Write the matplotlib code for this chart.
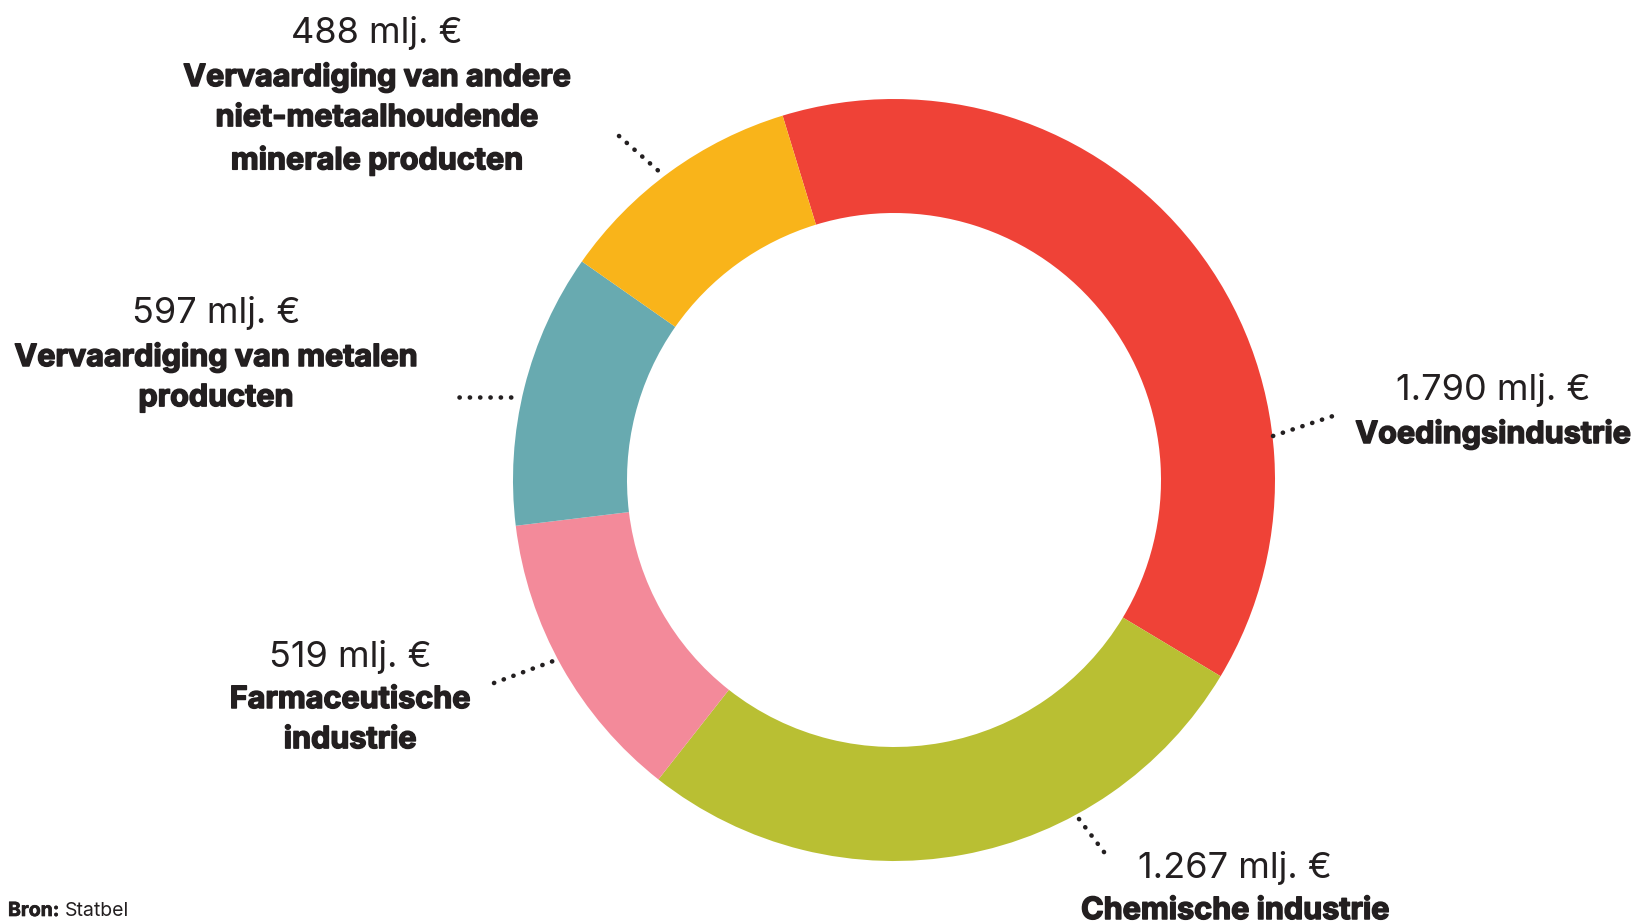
import matplotlib
matplotlib.use("Agg")
import matplotlib.pyplot as plt
import matplotlib.patheffects as pe

# data (clockwise from the top)
sectors = ["Voedingsindustrie", "Chemische industrie", "Farmaceutische\nindustrie",
           "Vervaardiging van metalen\nproducten",
           "Vervaardiging van andere\nniet-metaalhoudende\nminerale producten"]
value_labels = ["1.790 mlj. €", "1.267 mlj. €", "519 mlj. €", "597 mlj. €", "488 mlj. €"]
# arc sizes in degrees as measured on the source picture
arc_degrees = [138.0, 97.2, 44.9, 41.9, 38.0]
colors = ["#EF4237", "#B9BF33", "#F38A9A", "#68AAB0", "#F9B41A"]

txt = "#231F20"
W, H = 1642, 923

fig = plt.figure(figsize=(W / 100, H / 100), dpi=100)
ax = fig.add_axes([0, 0, 1, 1])

cx, cy = 894, H - 480
R = 381
ax.pie(arc_degrees, colors=colors, startangle=107, counterclock=False,
       center=(cx, cy), radius=R, wedgeprops=dict(width=114, linewidth=0))

ax.set_xlim(0, W)
ax.set_ylim(0, H)
ax.set_aspect("equal")
ax.axis("off")

# label anchors in pixel coords (x, y of value text)
label_pos = [(1493, 386), (1235, 864), (350, 653), (216, 309), (377, 29)]
leaders = [((1273, 436), (1333, 416)),
           ((1079, 819), (1107, 856)),
           ((494, 683), (556, 660)),
           ((459, 397), (515, 397)),
           ((619, 136), (662, 174))]

heavy = [pe.withStroke(linewidth=1.1, foreground=txt)]

for name, vlab, (lx, ly), (p0, p1) in zip(sectors, value_labels, label_pos, leaders):
    ax.text(lx, H - ly - 4, vlab, ha="center", va="center", fontsize=26,
            family="Inter", fontweight="normal", color=txt)
    ax.text(lx, H - ly - 33, name, ha="center", va="top", fontsize=22,
            family="Inter", fontweight="bold", color=txt, linespacing=1.55,
            path_effects=heavy)
    ax.plot([p0[0], p1[0]], [H - p0[1], H - p1[1]], color=txt, lw=3.3,
            linestyle=(0, (0.05, 2.2)), dash_capstyle="round")

b = ax.text(8, H - 911, "Bron:", ha="left", va="center", fontsize=14,
            family="Inter", fontweight="bold", color=txt,
            path_effects=[pe.withStroke(linewidth=0.5, foreground=txt)])
fig.canvas.draw()
bb = b.get_window_extent()
ax.text(bb.x1 + 5, H - 911, "Statbel", ha="left", va="center", fontsize=14,
        family="Inter", color=txt)

fig.savefig("out.png", dpi=100)
